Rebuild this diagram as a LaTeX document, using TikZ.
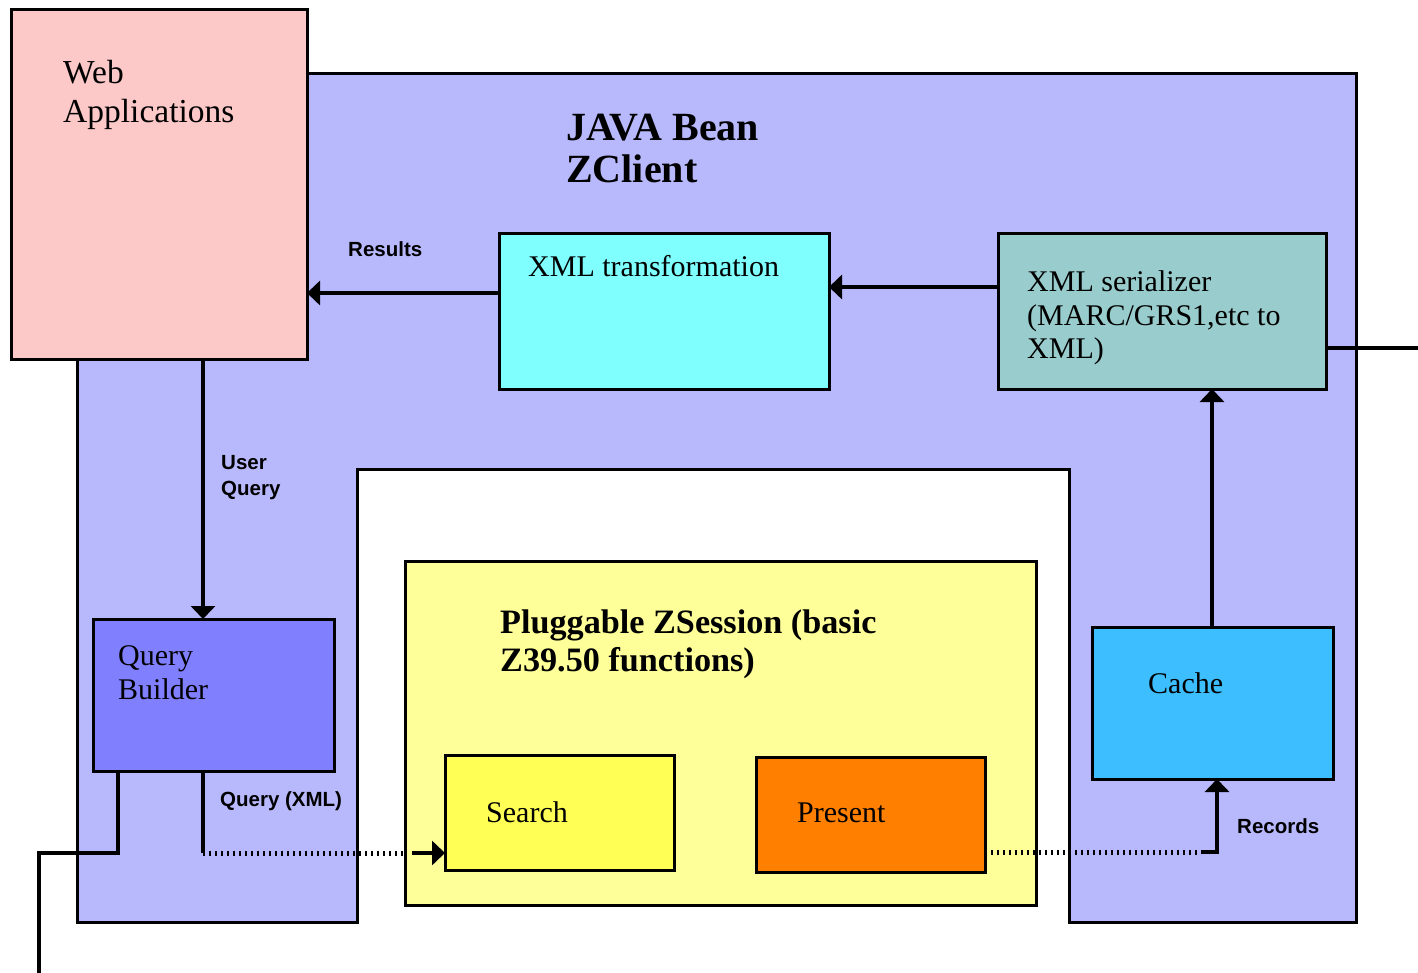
\documentclass[tikz,border=0pt]{standalone}
\usepackage{fontspec}
\setmainfont{Liberation Serif}
\newfontfamily\lsans{Liberation Sans}
\usetikzlibrary{arrows.meta}
\definecolor{bluebg}{HTML}{B8B8FC}
\definecolor{pinkc}{HTML}{FCC8C8}
\definecolor{cyanc}{HTML}{80FFFF}
\definecolor{tealc}{HTML}{99CCCC}
\definecolor{qbc}{HTML}{8080FF}
\definecolor{plugc}{HTML}{FFFF99}
\definecolor{searchc}{HTML}{FFFF55}
\definecolor{presentc}{HTML}{FF8000}
\definecolor{cachec}{HTML}{3CBEFF}
\begin{document}
\begin{tikzpicture}[x=1pt,y=-1pt,
  box/.style={draw=black, line width=3pt, inner sep=0pt, outer sep=0pt},
  conn/.style={line width=4pt},
  arr/.style={conn, -{Triangle[length=13pt,width=24pt]}},
  dotl/.style={line width=5pt, dash pattern=on 2pt off 4pt},
  txt/.style={anchor=base west, inner sep=0pt, font=\fontsize{30}{34}\selectfont},
  bigtxt/.style={anchor=base west, inner sep=0pt, font=\fontsize{33.5}{38}\selectfont},
  ttl/.style={anchor=base west, inner sep=0pt, font=\bfseries\fontsize{40}{44}\selectfont},
  plg/.style={anchor=base west, inner sep=0pt, font=\bfseries\fontsize{34.2}{38}\selectfont},
  lab/.style={anchor=base west, inner sep=0pt, font={\lsans\bfseries\fontsize{20.5}{24}\selectfont}}
]
\useasboundingbox (0,0) rectangle (1418,973);
\fill[white] (0,0) rectangle (1418,973);

% JAVA Bean region (U shape)
\draw[fill=bluebg, line width=3pt] (77,74) -- (1356,74) -- (1356,922) -- (1069,922) -- (1069,469) -- (357,469) -- (357,922) -- (77,922) -- cycle;

% boxes
\node[box, fill=pinkc, minimum width=296pt, minimum height=349pt] (web) at (159,184.5) {};
\node[box, fill=cyanc, minimum width=330pt, minimum height=155pt] (xmlt) at (664,311.5) {};
\node[box, fill=tealc, minimum width=328pt, minimum height=155pt] (xmls) at (1162,311.5) {};
\node[box, fill=qbc, minimum width=241pt, minimum height=152pt] (qb) at (213.5,695) {};
\node[box, fill=plugc, minimum width=631pt, minimum height=344pt] (plug) at (720.5,733) {};
\node[box, fill=searchc, minimum width=229pt, minimum height=115pt] (search) at (559.5,812.5) {};
\node[box, fill=presentc, minimum width=229pt, minimum height=115pt] (present) at (870.5,814.5) {};
\node[box, fill=cachec, minimum width=241pt, minimum height=152pt] (cache) at (1213,703) {};

% helper coordinates
\coordinate (ry) at (0,293);
\coordinate (sy) at (0,287);
\coordinate (ux) at (203,0);
\coordinate (cx) at (1212,0);
\coordinate (qbdrop) at (203,853);
\coordinate (dotend) at (403,853);
\coordinate (arrstart) at (412,853);
\coordinate (py) at (0,852);
\coordinate (pdot) at (1201,852);
\coordinate (rx) at (1217,852);
\coordinate (lx) at (118,853);
\coordinate (lcorner) at (39,853);
\coordinate (lexit) at (39,975);
\coordinate (rexit) at (1420,348);

% connectors
\draw[arr] (xmlt.west |- ry) -- (web.east |- ry);
\draw[arr] (xmls.west |- sy) -- (xmlt.east |- sy);
\draw[arr] (web.south -| ux) -- (qb.north -| ux);
\draw[arr] (cache.north -| cx) -- (xmls.south -| cx);
\draw[conn] (qb.south -| qbdrop) -- (qbdrop);
\draw[dotl] (qbdrop) -- (dotend);
\draw[arr] (arrstart) -- (search.west |- arrstart);
\draw[dotl] (present.east |- py) -- (pdot);
\draw[arr] (pdot) -- (rx) -- (cache.south -| rx);
\draw[conn] (qb.south -| lx) -- (lx) -- (lcorner) -- (lexit);
\draw[conn] (xmls.east |- rexit) -- (rexit);

% texts
\node[bigtxt] (t-web1) at (63,84) {Web};
\node[bigtxt] (t-web2) at (63,123) {Applications};
\node[ttl] (t-java1) at (566,141) {JAVA Bean};
\node[ttl] (t-java2) at (566,183) {ZClient};
\node[lab] (t-results) at (348,257) {Results};
\node[txt] (t-xmlt) at (528,277) {XML transformation};
\node[txt] (t-xmls1) at (1027,292) {XML serializer};
\node[txt] (t-xmls2) at (1027,326) {(MARC/GRS1,etc to};
\node[txt] (t-xmls3) at (1027,359) {XML)};
\node[lab] (t-uq1) at (221,469) {User};
\node[lab] (t-uq2) at (221,495) {Query};
\node[txt] (t-qb1) at (118,665) {Query};
\node[txt] (t-qb2) at (118,699) {Builder};
\node[plg] (t-plug1) at (500,633) {Pluggable ZSession (basic};
\node[plg] (t-plug2) at (500,671) {Z39.50 functions)};
\node[txt] (t-search) at (486,822) {Search};
\node[txt] (t-present) at (797,822) {Present};
\node[txt] (t-cache) at (1148,693) {Cache};
\node[lab] (t-qxml) at (220,806) {Query (XML)};
\node[lab] (t-records) at (1237,833) {Records};
\end{tikzpicture}
\end{document}
